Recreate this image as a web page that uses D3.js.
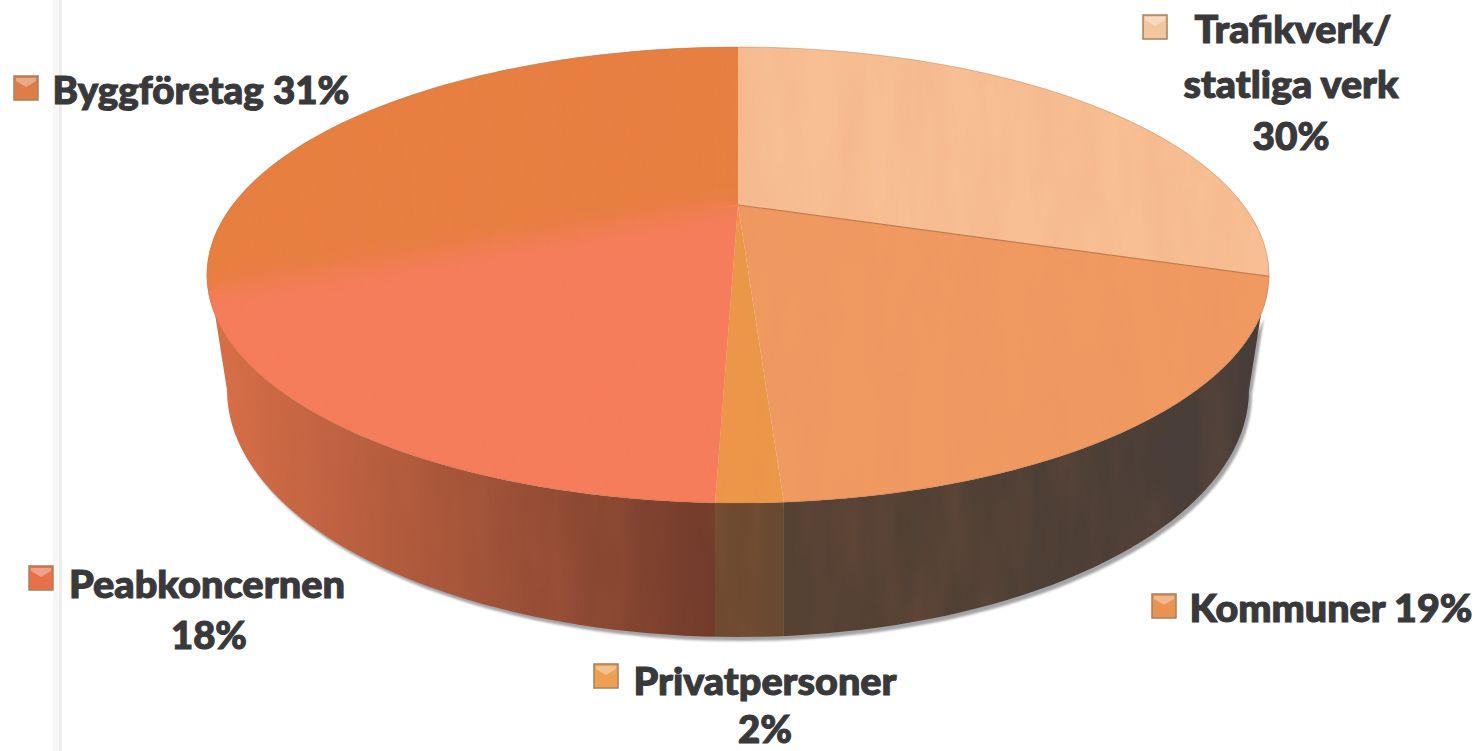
<!DOCTYPE html>
<html>
<head>
<meta charset="utf-8">
<script src="https://cdn.jsdelivr.net/npm/d3@7"></script>
<style>
  html, body { margin: 0; padding: 0; background: #fff; overflow: hidden; }
  text { font-family: Lato, "Open Sans", sans-serif; font-weight: 900; fill: #39393b; stroke: #39393b; stroke-width: 1.1; }
</style>
</head>
<body>
<svg id="chart" width="1480" height="751"></svg>
<script>
// order is clockwise from twelve o'clock, as in the picture
const categories = ['Trafikverk', 'Kommuner', 'Privatpersoner', 'Peabkoncernen', 'Byggföretag'];
const labelPercents = [30, 19, 2, 18, 31];
// the wedges as drawn: Privatpersoner is visibly thinner than its rounded 2%
const wedgeShares = [30, 18.9, 1.5, 18.4, 31];

const topColors = ['#f7bf93', '#f09a62', '#ec9848', '#f67d5c', '#e77f40'];
const sideLeftColors = [null, '#564233', '#6f4a30', '#dc7149', null];
const sideRightColors = [null, '#463d39', '#684a30', '#713b2b', null];
const keyColors = ['#f2c79f', '#ea9350', '#eea050', '#e8714a', '#dd7d48'];

const labelLines = [
  ['Trafikverk/', 'statliga verk', labelPercents[0] + '%'],
  ['Kommuner ' + labelPercents[1] + '%'],
  ['Privatpersoner', labelPercents[2] + '%'],
  ['Peabkoncernen', labelPercents[3] + '%'],
  ['Byggföretag ' + labelPercents[4] + '%']
];
const lineWidths = [[197, 215, 77], [283], [263, 54], [276, 76], [297]];
const lineCentres = [[1293, 1291, 1291], [1331], [765, 765], [207, 209], [201]];
const lineBaselines = [[43, 98, 150], [622], [695, 743], [598, 649], [104]];
const keyCorners = [[1143, 15], [1152, 594], [594, 664], [29, 566], [14, 76]];

const svg = d3.select('#chart');
const defs = svg.append('defs');

const CX = 738,
  TOP_RX = 531, TOP_RY = 228, TOP_CY = 275,
  BOTTOM_RX = 511, BOTTOM_RY = 247, BOTTOM_CY = 390;

// the tilted disc: a circle under a perspective transform, so the
// slices meet above the middle of the ellipse
const SKEW = -0.307, Y_SCALE = 143.6, Y_APEX = 205, X_SCALE = 505.6;

function project (angle) {
  let
    u = Math.sin(angle),
    v = -Math.cos(angle),
    w = 1 + SKEW * v;

  return [CX + X_SCALE * u / w, (Y_SCALE * v + Y_APEX) / w];
}

const slices = d3.pie().sort(null).value((d) => d)(wedgeShares);

function wedgePath (slice) {
  let steps = d3.range(0, 61).map((i) => slice.startAngle + (slice.endAngle - slice.startAngle) * i / 60);

  return d3.line()([[CX, Y_APEX]].concat(steps.map(project))) + 'Z';
}

// outline of the side wall, from the right rim round the bottom to the left rim
function bodyPath () {
  let
    rad = Math.PI / 180,
    topPoint = (deg) => [CX + TOP_RX * Math.sin(deg * rad), TOP_CY - TOP_RY * Math.cos(deg * rad)],
    lowPoint = (deg) => [CX + BOTTOM_RX * Math.sin(deg * rad), BOTTOM_CY - BOTTOM_RY * Math.cos(deg * rad)],
    points = [];

  d3.range(100, 261, 2).forEach((deg) => points.push(topPoint(deg)));
  d3.range(270, 89, -2).forEach((deg) => points.push(lowPoint(deg)));

  return d3.line()(points) + 'Z';
}

// scanned-paper streaks laid over the coloured areas
const streaks = defs.append('filter')
  .attr('id', 'streaks')
  .attr('filterUnits', 'userSpaceOnUse')
  .attr('x', 0).attr('y', 0).attr('width', 1480).attr('height', 751);

streaks.append('feTurbulence')
  .attr('type', 'fractalNoise')
  .attr('baseFrequency', '0.03 0.006')
  .attr('numOctaves', 3)
  .attr('seed', 7);
streaks.append('feColorMatrix')
  .attr('values', '0 0 0 0 0.85  0 0 0 0 0.22  0 0 0 0 0.12  1.6 0 0 0 -0.62');

defs.append('filter')
  .attr('id', 'soft')
  .append('feGaussianBlur')
  .attr('stdDeviation', 1.2);

defs.append('filter')
  .attr('id', 'seam-blur')
  .attr('filterUnits', 'userSpaceOnUse')
  .attr('x', 0).attr('y', 0).attr('width', 1480).attr('height', 751)
  .append('feGaussianBlur')
  .attr('stdDeviation', 12);

defs.append('clipPath').attr('id', 'body-clip').append('path').attr('d', bodyPath());

// fold of the scanned page on the left
svg.append('rect').attr('x', 53).attr('y', 0).attr('width', 9).attr('height', 751).attr('fill', '#f7f7f8');
svg.append('rect').attr('x', 59).attr('y', 0).attr('width', 3).attr('height', 751).attr('fill', '#ececed');

// drop shadow
svg.append('path')
  .attr('d', bodyPath())
  .attr('transform', 'translate(3,4)')
  .attr('fill', '#a4a4a6')
  .attr('filter', 'url(#soft)');

// side wall, one band per slice that faces the viewer
const sideGroup = svg.append('g').attr('clip-path', 'url(#body-clip)');

slices.forEach((slice, i) => {
  if (!sideLeftColors[i]) {
    return;
  }

  let
    a = project(slice.startAngle)[0],
    b = project(slice.endAngle)[0],
    xLeft = i === 3 ? 190 : Math.min(a, b),
    xRight = i === 1 ? 1290 : Math.max(a, b),
    gradient = defs.append('linearGradient')
      .attr('id', 'side-' + i)
      .attr('gradientUnits', 'userSpaceOnUse')
      .attr('x1', xLeft).attr('x2', xRight).attr('y1', 0).attr('y2', 0);

  gradient.append('stop').attr('offset', 0).attr('stop-color', sideLeftColors[i]);
  gradient.append('stop').attr('offset', 1).attr('stop-color', sideRightColors[i]);

  sideGroup.append('rect')
    .attr('x', xLeft).attr('y', 250)
    .attr('width', xRight - xLeft).attr('height', 450)
    .attr('fill', 'url(#side-' + i + ')');
});

sideGroup.append('rect')
  .attr('width', 1480).attr('height', 751)
  .attr('filter', 'url(#streaks)')
  .attr('opacity', 0.12);

// top face
svg.append('g')
  .selectAll('path')
  .data(slices)
  .join('path')
  .attr('d', wedgePath)
  .attr('fill', (d, i) => topColors[i]);

// the seam between Byggföretag and Peabkoncernen is soft in the print
const softSlices = slices.filter((d) => d.index >= 3);

defs.append('clipPath').attr('id', 'soft-clip')
  .selectAll('path').data(softSlices).join('path').attr('d', wedgePath);

svg.append('g')
  .attr('clip-path', 'url(#soft-clip)')
  .append('g')
  .attr('filter', 'url(#seam-blur)')
  .selectAll('path')
  .data(softSlices)
  .join('path')
  .attr('d', wedgePath)
  .attr('fill', (d) => topColors[d.index]);

defs.append('clipPath').attr('id', 'top-clip')
  .selectAll('path').data(slices).join('path').attr('d', wedgePath);

svg.append('g')
  .attr('clip-path', 'url(#top-clip)')
  .append('rect')
  .attr('width', 1480).attr('height', 751)
  .attr('filter', 'url(#streaks)')
  .attr('opacity', 0.16);

// thin seam under Trafikverk and round the rim
svg.append('path')
  .attr('d', d3.line()([[CX, Y_APEX], project(slices[0].endAngle)]))
  .attr('stroke', '#c47a50').attr('stroke-width', 1.2).attr('fill', 'none');

svg.append('ellipse')
  .attr('cx', CX).attr('cy', TOP_CY).attr('rx', TOP_RX).attr('ry', TOP_RY)
  .attr('fill', 'none').attr('stroke', '#b07a50').attr('stroke-width', 1).attr('stroke-opacity', 0.4);

// legend keys
const keys = svg.append('g')
  .selectAll('g')
  .data(categories)
  .join('g')
  .attr('transform', (d, i) => `translate(${keyCorners[i][0]},${keyCorners[i][1]})`);

keys.append('rect')
  .attr('width', 24).attr('height', 24)
  .attr('fill', (d, i) => keyColors[i])
  .attr('stroke', '#a8805f').attr('stroke-width', 1.5);

keys.append('path')
  .attr('d', 'M2 2H22V5L12 11L2 5Z')
  .attr('fill', '#fff')
  .attr('fill-opacity', 0.35);

// labels
const labels = svg.append('g')
  .selectAll('g')
  .data(labelLines)
  .join('g');

labels.each(function (lines, i) {
  d3.select(this)
    .selectAll('text')
    .data(lines)
    .join('text')
    .attr('x', (d, j) => lineCentres[i][j])
    .attr('y', (d, j) => lineBaselines[i][j])
    .attr('text-anchor', 'middle')
    .attr('font-size', 38)
    .attr('textLength', (d, j) => lineWidths[i][j])
    .attr('lengthAdjust', 'spacingAndGlyphs')
    .text((d) => d);
});
</script>
</body>
</html>
